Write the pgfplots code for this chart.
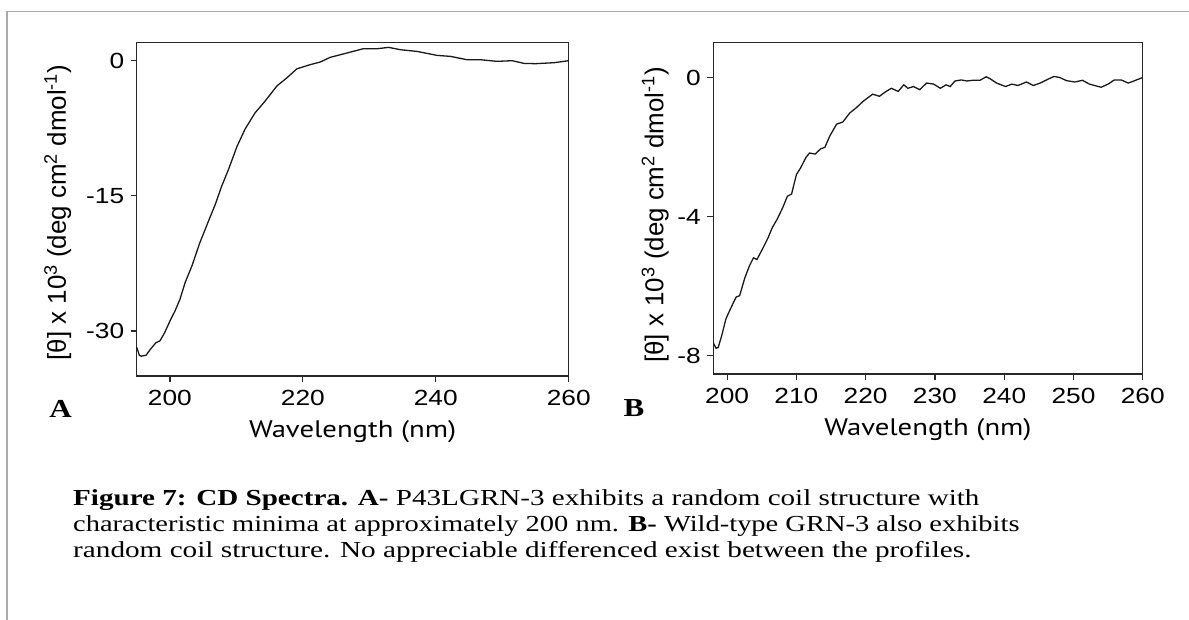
\documentclass[border=0pt]{standalone}
\usepackage{fontspec}
\setmainfont{Liberation Serif}
\newfontfamily\arial{Liberation Sans}
\newfontfamily\labfont{PT Sans}
\usepackage{graphicx}
\usepackage{pgfplots}
\pgfplotsset{compat=1.18}
\newcommand\sx[1]{\scalebox{1.2}[1]{#1}}
\definecolor{framegray}{RGB}{170,170,170}
\definecolor{axcol}{RGB}{40,40,40}
\pgfplotsset{
  cdstyle/.style={
    scale only axis,
    axis line style={line width=1.4bp, color=axcol},
    tick style={line width=1.2bp, color=axcol},
    tick align=outside,
    major tick length=6bp,
    tick pos=left,
    ticklabel style={font=\arial\fontsize{22}{22}\selectfont, color=black},
    xticklabel style={yshift=-5bp},
    yticklabel style={xshift=-3bp},
    xlabel style={font=\labfont\fontsize{24}{24}\selectfont, at={(axis description cs:0.5,-0.168)}, anchor=center},
    ylabel style={font=\arial\fontsize{26}{26}\selectfont, anchor=center},
  },
  cdline/.style={line width=1.3bp, color=black!90, mark=none},
}
\begin{document}
\begin{tikzpicture}[x=1bp,y=1bp]
\path[use as bounding box] (0,0) rectangle (1189,620);
\draw[framegray, line width=1.6bp] (6.7,0) -- (6.7,608.3) -- (1189,608.3);
\coordinate (pA) at (136.7,244);
\coordinate (pB) at (713.3,246);

% Panel A
\begin{axis}[cdstyle,
  at={(pA)}, anchor=south west,
  width=432bp, height=333.3bp,
  xmin=195, xmax=260, ymin=-35, ymax=2,
  xtick={200,220,240,260}, xticklabels={\sx{200},\sx{220},\sx{240},\sx{260}},
  ytick={-30,-15,0}, yticklabels={\sx{-30},\sx{-15},\sx{0}},
  xlabel={\sx{Wavelength (nm)}},
  ylabel={[θ] x 10\textsuperscript{3} (deg cm\textsuperscript{2} dmol\textsuperscript{-1})},
  ylabel style={at={(axis description cs:-0.183,0.49)}},
]
\addplot[cdline] coordinates {
(195.0,-31.8) (195.4,-32.7) (195.7,-32.8) (196.4,-32.7) (197.1,-32.0) (197.9,-31.3)
(198.5,-31.1) (199.2,-30.2) (200.0,-28.9) (200.75,-27.8) (201.5,-26.5) (202.3,-24.6)
(203.3,-22.8) (204.5,-20.2) (205.8,-17.8) (206.8,-16.0) (207.8,-13.9) (208.8,-12.1)
(210.1,-9.5) (211.3,-7.6) (212.8,-5.8) (214.3,-4.5) (216.1,-2.8) (217.6,-1.9)
(219.1,-0.9) (221.1,-0.44) (222.6,-0.15) (224.1,0.37) (226.6,0.85) (229.1,1.33)
(231.2,1.33) (232.9,1.48) (234.7,1.22) (237.2,1.03) (240.2,0.59) (242.2,0.48)
(244.7,0.11) (246.7,0.11) (249.2,-0.07) (251.5,0.0) (253.3,-0.3) (255.0,-0.33)
(257.8,-0.22) (260.0,0.0)
};
\end{axis}

% Panel B
\begin{axis}[cdstyle,
  at={(pB)}, anchor=south west,
  width=429.4bp, height=331.3bp,
  xmin=198, xmax=260, ymin=-8.52, ymax=1,
  xtick={200,210,...,260}, xticklabels={\sx{200},\sx{210},\sx{220},\sx{230},\sx{240},\sx{250},\sx{260}},
  ytick={-8,-4,0}, yticklabels={\sx{-8},\sx{-4},\sx{0}},
  xlabel={\sx{Wavelength (nm)}},
  ylabel={[θ] x 10\textsuperscript{3} (deg cm\textsuperscript{2} dmol\textsuperscript{-1})},
  ylabel style={at={(axis description cs:-0.135,0.48)}},
]
\addplot[cdline] coordinates {
(197.98,-7.62) (198.4,-7.78) (198.7,-7.76) (199.2,-7.43) (199.8,-6.95) (200.1,-6.81)
(200.9,-6.47) (201.3,-6.31) (201.8,-6.27) (202.55,-5.76) (203.2,-5.42) (203.8,-5.18)
(204.3,-5.23) (205.2,-4.89) (205.9,-4.61) (206.5,-4.32) (207.2,-4.08) (208.0,-3.75)
(208.7,-3.41) (209.3,-3.35) (210.0,-2.79) (210.6,-2.60) (211.4,-2.29) (211.9,-2.17)
(212.7,-2.20) (213.5,-2.05) (214.1,-2.01) (214.8,-1.69) (215.8,-1.34) (216.7,-1.28)
(217.7,-1.02) (218.7,-0.86) (219.6,-0.69) (221.0,-0.48) (222.0,-0.54) (222.8,-0.42)
(223.7,-0.31) (224.7,-0.40) (225.5,-0.21) (226.1,-0.31) (226.9,-0.26) (227.8,-0.35)
(228.8,-0.16) (229.8,-0.19) (230.8,-0.31) (231.6,-0.21) (232.2,-0.26) (232.9,-0.10)
(233.8,-0.07) (234.6,-0.10) (235.5,-0.08) (236.5,-0.08) (237.4,0.02) (238.0,-0.04)
(238.9,-0.16) (240.2,-0.26) (241.1,-0.19) (242.0,-0.23) (243.2,-0.13) (244.2,-0.23)
(245.2,-0.16) (246.1,-0.07) (247.2,0.03) (248.0,0.0) (249.0,-0.09) (250.2,-0.13)
(251.3,-0.08) (252.3,-0.19) (254.0,-0.28) (255.0,-0.19) (255.9,-0.07) (256.9,-0.07)
(257.9,-0.16) (258.6,-0.11) (260.0,0.0)
};
\end{axis}

% panel letters
\node[font=\bfseries\fontsize{26}{26}\selectfont, anchor=center] at (60.5,211.5) {\sx{A}};
\node[font=\bfseries\fontsize{26}{26}\selectfont, anchor=center] at (634,211.5) {\sx{B}};

% caption
\begin{scope}[every node/.style={anchor=base west, inner sep=0pt, font=\fontsize{23}{23}\selectfont}]
\node at (73,114) {\scalebox{1.27}[1]{\textbf{Figure 7: CD Spectra. A-} P43LGRN-3 exhibits a random coil structure with}};
\node at (73,88) {\scalebox{1.243}[1]{characteristic minima at approximately 200 nm. \textbf{B-} Wild-type GRN-3 also exhibits}};
\node at (73,62) {\scalebox{1.275}[1]{random coil structure. No appreciable differenced exist between the profiles.}};
\end{scope}
\end{tikzpicture}
\end{document}
